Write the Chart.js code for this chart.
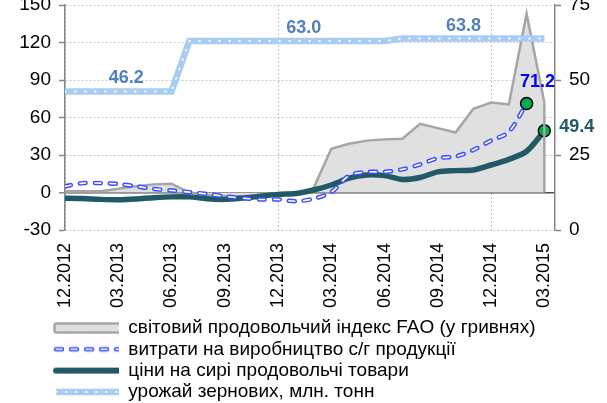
<!DOCTYPE html>
<html>
<head>
<meta charset="utf-8">
<script src="https://cdn.jsdelivr.net/npm/chart.js@4"></script>
<style>
  html, body { margin: 0; padding: 0; background: #fff; }
  #wrap { width: 607px; height: 403px; }
</style>
</head>
<body>
<div id="wrap"><canvas id="chart"></canvas></div>
<script>
const months = ['12.2012', '01.2013', '02.2013', '03.2013', '04.2013', '05.2013', '06.2013', '07.2013',
  '08.2013', '09.2013', '10.2013', '11.2013', '12.2013', '01.2014', '02.2014', '03.2014', '04.2014',
  '05.2014', '06.2014', '07.2014', '08.2014', '09.2014', '10.2014', '11.2014', '12.2014', '01.2015',
  '02.2015', '03.2015'];
const tickLabels = ['12.2012', '03.2013', '06.2013', '09.2013', '12.2013', '03.2014', '06.2014',
  '09.2014', '12.2014', '03.2015'];
const leftTicks = [-30, 0, 30, 60, 90, 120, 150];
const rightTicks = [0, 25, 50, 75];

// світовий продовольчий індекс FAO (у гривнях)
const faoIndex = [1, 1, 1, 3, 5, 6.5, 7, 0, -2, -3, -3, -2, -1.5, -1, 3.5, 35, 39, 41.5, 42.5, 43,
  55, 51.5, 48, 67, 72, 70.5, 143, 72];
// витрати на виробництво с/г продукції
const productionCosts = [5, 7.5, 7.5, 6.8, 5, 2.8, 1.6, 0.3, -1.2, -3, -4.5, -5.6, -5.6, -7, -5,
  0.3, 13.6, 16.5, 16.5, 18.5, 22.5, 27.5, 28.8, 34, 41.6, 48.5, 71.2];
// ціни на сирі продовольчі товари
const rawFoodPrices = [-4.5, -4.8, -5.5, -5.8, -5.2, -4.2, -3.5, -3.5, -5, -5.5, -4.5, -3, -1.5,
  -0.8, 2, 6, 11.5, 14, 13.5, 10.4, 12, 16.5, 17.5, 18, 22, 26.5, 33, 49.4];
// урожай зернових, млн. тонн (права вісь)
const grainHarvest = [46.2, 46.2, 46.2, 46.2, 46.2, 46.2, 46.2,
  63.0, 63.0, 63.0, 63.0, 63.0, 63.0, 63.0, 63.0, 63.0, 63.0, 63.0, 63.0,
  63.8, 63.8, 63.8, 63.8, 63.8, 63.8, 63.8, 63.8, 63.8];
const harvestLabelIdx = [3, 13, 22];

const names = [
  'світовий продовольчий індекс FAO (у гривнях)',
  'витрати на виробництво с/г продукції',
  'ціни на сирі продовольчі товари',
  'урожай зернових, млн. тонн'
];

const FONT = '"Liberation Sans", Arial, sans-serif';
Chart.defaults.font.family = FONT;
Chart.defaults.font.size = 19;
Chart.defaults.color = '#000';

const BLUE = '#3b4cff', TEAL = '#215967', LIGHT = '#a8cdf1', GREY = '#a5a5a5';

const pts = arr => arr.map((v, i) => ({ x: i, y: v }));
const lastOnly = (arr, r) => ctx => ctx.dataIndex === arr.length - 1 ? r : 0;

// legend samples: the left part of each canvas stays empty so the sample sits indented
const SW = 117, S0 = 51, S1 = 120;
function sample(draw) {
  const c = document.createElement('canvas');
  c.width = SW; c.height = 14;
  const g = c.getContext('2d');
  draw(g);
  return c;
}
function hline(g, color, width, dash, cap) {
  g.beginPath();
  g.strokeStyle = color; g.lineWidth = width; g.lineCap = cap || 'butt';
  g.setLineDash(dash || []);
  g.moveTo(S0 + 3, 7); g.lineTo(S1 - 3, 7);
  g.stroke();
}
const samples = [
  sample(g => {
    g.fillStyle = '#e0e0e0'; g.strokeStyle = GREY; g.lineWidth = 2.5;
    g.beginPath(); g.roundRect(S0 + 1.5, 2.5, S1 - S0 - 3, 9, 2); g.fill(); g.stroke();
  }),
  sample(g => { hline(g, BLUE, 4.5, [6, 9], 'round'); hline(g, '#fff', 1.6, [6, 9], 'round'); }),
  sample(g => hline(g, TEAL, 6, [], 'round')),
  sample(g => { hline(g, LIGHT, 6.5); hline(g, '#fff', 2, [0.5, 9.5], 'round'); })
];

const valueLabels = {
  id: 'valueLabels',
  afterDatasetsDraw(chart) {
    const ctx = chart.ctx;
    const y0 = chart.scales.y.getPixelForValue(0);
    ctx.save();
    // closing edge of the FAO area
    const f = chart.getDatasetMeta(5).data;
    const fl = f[f.length - 1];
    ctx.strokeStyle = GREY; ctx.lineWidth = 2.5;
    ctx.beginPath(); ctx.moveTo(fl.x, fl.y); ctx.lineTo(fl.x, y0); ctx.stroke();

    ctx.font = 'bold 18px ' + FONT;
    ctx.textBaseline = 'middle';
    ctx.textAlign = 'center';
    ctx.fillStyle = '#4f81bd';
    const h = chart.getDatasetMeta(1).data;
    harvestLabelIdx.forEach(i => {
      ctx.fillText(grainHarvest[i].toFixed(1), h[i].x + 8, h[i].y - 13);
    });
    const b = chart.getDatasetMeta(2).data;
    const bi = productionCosts.length - 1;
    ctx.fillStyle = '#0000ff';
    ctx.fillText(productionCosts[bi].toFixed(1), b[bi].x + 11, b[bi].y - 21);
    const t = chart.getDatasetMeta(4).data;
    const ti = rawFoodPrices.length - 1;
    ctx.fillStyle = TEAL;
    ctx.textAlign = 'left';
    ctx.fillText(rawFoodPrices[ti].toFixed(1), t[ti].x + 15, t[ti].y - 4);
    ctx.restore();
  }
};

new Chart(document.getElementById('chart'), {
  type: 'line',
  data: {
    datasets: [
      { label: 'harvest dots', data: pts(grainHarvest), yAxisID: 'y1', borderColor: '#fff',
        borderWidth: 2, borderDash: [0.5, 9.5], borderCapStyle: 'round', pointRadius: 0 },
      { label: names[3], data: pts(grainHarvest), yAxisID: 'y1', borderColor: LIGHT,
        borderWidth: 6.5, pointRadius: 0 },
      { label: 'costs inner', data: pts(productionCosts), borderColor: '#fff', borderWidth: 1.6,
        borderDash: [6, 9], borderCapStyle: 'round', tension: 0.3,
        pointRadius: lastOnly(productionCosts, 6), pointBackgroundColor: '#00b050',
        pointBorderColor: '#000', pointBorderWidth: 1.5 },
      { label: names[1], data: pts(productionCosts), borderColor: BLUE, borderWidth: 4.5,
        borderDash: [6, 9], borderCapStyle: 'round', tension: 0.3, pointRadius: 0 },
      { label: names[2], data: pts(rawFoodPrices), borderColor: TEAL, borderWidth: 5.5,
        tension: 0.3, pointRadius: lastOnly(rawFoodPrices, 6), pointBackgroundColor: '#00b050',
        pointBorderColor: '#000', pointBorderWidth: 1.5 },
      { label: names[0], data: pts(faoIndex), borderColor: GREY, borderWidth: 2.5,
        backgroundColor: '#e0e0e0', fill: 'origin', pointRadius: 0 }
    ]
  },
  options: {
    responsive: true,
    maintainAspectRatio: false,
    animation: false,
    events: [],
    layout: { autoPadding: false, padding: { left: 0, right: 0, top: 5, bottom: 0 } },
    scales: {
      x: {
        type: 'linear', min: 0, max: 27.6,
        afterBuildTicks: s => { s.ticks = tickLabels.map(t => ({ value: months.indexOf(t) })); },
        afterFit: s => { s.height = 86.2; },
        grid: {
          color: c => c.tick && c.tick.value % 12 === 0 ? '#bfbfbf' : 'rgba(0,0,0,0)',
          lineWidth: 1, drawTicks: false
        },
        border: { display: false, dash: [2, 2] },
        ticks: { autoSkip: false, minRotation: 90, maxRotation: 90, padding: 13,
          font: { size: 18 }, callback: v => months[v] }
      },
      y: {
        position: 'left', min: -30, max: 150,
        afterBuildTicks: s => { s.ticks = leftTicks.map(v => ({ value: v })); },
        afterFit: s => { s.width = 65; s.paddingTop = 0; s.paddingBottom = 0; },
        grid: {
          color: c => c.tick && c.tick.value === 0 ? '#4d4d4d' : '#c8c8c8',
          lineWidth: c => c.tick && c.tick.value === 0 ? 1.5 : 1,
          tickLength: 6, tickColor: '#868686', tickWidth: 1.5
        },
        border: { color: '#868686', width: 1.5,
          dash: c => c.type === 'tick' && c.tick.value !== 0 ? [2, 2] : [] },
        ticks: { padding: 8 }
      },
      y1: {
        position: 'right', min: 0, max: 75,
        afterBuildTicks: s => { s.ticks = rightTicks.map(v => ({ value: v })); },
        afterFit: s => { s.width = 52; s.paddingTop = 0; s.paddingBottom = 0; },
        grid: { drawOnChartArea: false, tickLength: 6, tickColor: '#868686', tickWidth: 1.5 },
        border: { color: '#868686', width: 1.5 },
        ticks: { padding: 8 }
      }
    },
    plugins: {
      tooltip: { enabled: false },
      legend: {
        position: 'bottom', align: 'start', maxHeight: 86.8,
        labels: {
          usePointStyle: true, pointStyleWidth: SW - 0.5, padding: 2.3,
          generateLabels: () => names.map((n, i) => ({
            text: n, pointStyle: samples[i], fillStyle: '#fff', strokeStyle: '#fff',
            lineWidth: 0, hidden: false, fontColor: '#000'
          }))
        }
      }
    }
  },
  plugins: [valueLabels]
});
</script>
</body>
</html>
